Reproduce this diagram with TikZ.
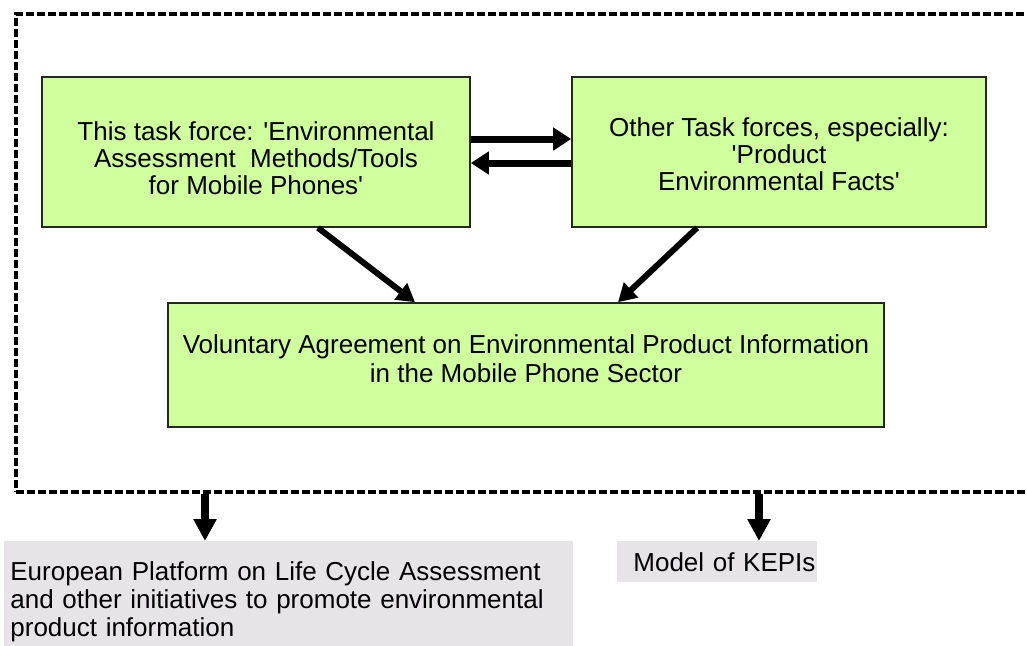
\documentclass[tikz,border=0pt]{standalone}
\usepackage{fontspec}
\setmainfont{Liberation Sans}
\usepackage{xcolor}
\usetikzlibrary{arrows.meta, positioning}

\definecolor{tfgreen}{RGB}{208,255,158}
\definecolor{outgrey}{RGB}{230,228,231}
\newcommand{\apos}{\textquotesingle}

\begin{document}
\begin{tikzpicture}[x=0.5pt, y=-0.5pt,
    tf/.style={draw=black!85, line width=0.8pt, fill=tfgreen, align=center,
      inner sep=0pt, text depth=0pt, font=\fontsize{13}{13.5}\selectfont},
    outbox/.style={fill=outgrey, inner ysep=0pt, anchor=north west,
      align=left, font=\fontsize{13}{14}\selectfont},
    fat/.style={line width=3.5pt, -{Triangle[length=9pt, width=11pt]}},
    slant/.style={line width=3pt, -{Triangle[length=9pt, width=10pt]}},
    drop/.style={line width=4pt, -{Triangle[length=11pt, width=11pt]}}]
  \useasboundingbox (0,0) rectangle (1027,645);

  % Dashed frame round the task forces
  \node[draw, line width=1.6pt, dash pattern=on 4pt off 1.5pt,
    minimum width=512pt, minimum height=239pt, inner sep=0pt] (frame) at (528,253) {};

  % Task forces
  \node[tf, minimum width=214pt, minimum height=75pt, text height=42.5pt] (this) at (256,152)
    {This task force: \apos Environmental\\Assessment\ \ Methods/Tools\\for Mobile Phones\apos};
  \node[tf, minimum width=207pt, minimum height=75pt, text height=38.5pt] (other) at (779,152)
    {Other Task forces, especially:\\\apos Product\\Environmental Facts\apos};
  \node[tf, minimum width=358pt, minimum height=62pt, text height=17pt,
    font=\fontsize{13}{14.5}\selectfont] (va) at (526,365)
    {Voluntary Agreement on Environmental Product Information\\in the Mobile Phone Sector};

  % Exchange between the task forces
  \draw[fat] ([yshift=6.5pt]this.east) -- ([yshift=6.5pt]other.west);
  \draw[fat] ([yshift=-5.5pt]other.west) -- ([yshift=-5.5pt]this.east);

  % Both feed the agreement
  \draw[slant] ([xshift=31pt]this.south) -- ([xshift=-55.5pt]va.north);
  \draw[slant] ([xshift=-41pt]other.south) -- ([xshift=46pt]va.north);

  % Outputs
  \node[outbox, inner xsep=3pt, text width=278.5pt, minimum height=60pt,
    text depth=30pt] (lca) at (4,541)
    {European Platform on Life Cycle Assessment\\and other initiatives to promote environmental\\product information};
  \node[outbox, inner xsep=0pt, text width=100pt, minimum height=20.5pt] (kepi) at (617,541)
    {\hspace*{8pt}Model of KEPIs};

  \coordinate (lcain) at (205,541);
  \coordinate (kepiin) at (759,541);
  \draw[drop] (frame.south -| lcain) -- (lcain);
  \draw[drop] (frame.south -| kepiin) -- (kepiin);
\end{tikzpicture}
\end{document}
